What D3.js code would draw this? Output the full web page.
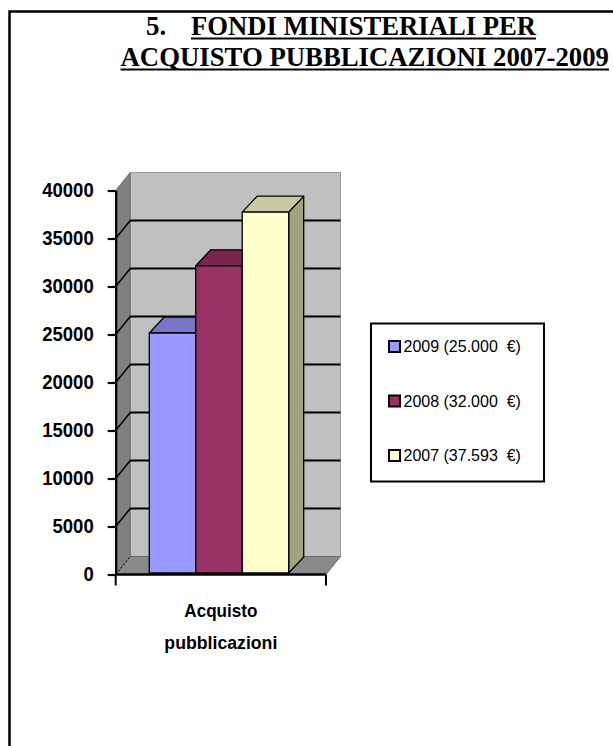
<!DOCTYPE html>
<html>
<head>
<meta charset="utf-8">
<script src="https://cdn.jsdelivr.net/npm/d3@7/dist/d3.min.js"></script>
<style>
  html, body { margin: 0; padding: 0; background: #fff; }
  svg { display: block; }
</style>
</head>
<body>
<script>
// ---- data ----
const categories = ["Acquisto pubblicazioni"];
const categoryLines = [["Acquisto", "pubblicazioni"]];
const seriesNames = ["2009", "2008", "2007"];
const seriesValues = [25000, 32000, 37593];
const legendLabels = ["2009 (25.000  €)", "2008 (32.000  €)", "2007 (37.593  €)"];
const yTicks = [0, 5000, 10000, 15000, 20000, 25000, 30000, 35000, 40000];
const titleNumber = "5.";
const titleLine1 = "FONDI MINISTERIALI PER";
const titleLine2 = "ACQUISTO PUBBLICAZIONI 2007-2009";

// ---- styles ----
const faceFront = ["#9999ff", "#993366", "#ffffcc"];
const faceTop   = ["#7777c4", "#79254f", "#c9c8a0"];
const faceSide  = ["#6e6eb0", "#6b1f45", "#a5a37f"];

const W = 613, H = 746;
const svg = d3.select("body").append("svg").attr("width", W).attr("height", H);

// page frame (open to the right and bottom)
svg.append("path")
  .attr("d", `M9.5,${H} V11.5 H${W}`)
  .attr("fill", "none").attr("stroke", "#000").attr("stroke-width", 2.5);

// ---- title ----
const tFont = "'Liberation Serif', 'Times New Roman', serif";
const title = svg.append("g").attr("font-family", tFont).attr("font-weight", "bold")
  .attr("font-size", 27).attr("fill", "#000");
title.append("text").attr("x", 146).attr("y", 35).text(titleNumber);
const t1 = title.append("text").attr("x", 191).attr("y", 35)
  .attr("textLength", 345).attr("lengthAdjust", "spacingAndGlyphs").text(titleLine1);
const t2 = title.append("text").attr("x", 120.5).attr("y", 66)
  .attr("textLength", 488.5).attr("lengthAdjust", "spacingAndGlyphs").text(titleLine2);
[[t1, 35, 191, 345], [t2, 66, 120.5, 488.5]].forEach(([t, yb, xs, w]) => {
  title.append("line")
    .attr("x1", xs).attr("x2", xs + w)
    .attr("y1", yb + 3.5).attr("y2", yb + 3.5)
    .attr("stroke", "#000").attr("stroke-width", 2);
});

// ---- chart geometry ----
const x0 = 115.7, x1 = 326;          // front floor edge
const depth = { dx: 14.5, dy: -18 };  // wall depth offset
const barDepth = { dx: 15, dy: -16 }; // column depth offset

const y = d3.scaleLinear().domain([0, 40000]).range([574.5, 190.5]);
const xCat = d3.scaleBand().domain(categories).range([x0, x1]);
const xBar = d3.scaleBand().domain(seriesNames).range([149.3, 288.7]).padding(0);

const poly = pts => "M" + pts.map(p => p.join(",")).join("L") + "Z";
const chart = svg.append("g");

const yTop = y(40000), yBase = y(0);

// back wall
chart.append("path")
  .attr("d", poly([[x0 + depth.dx, yBase + depth.dy], [x0 + depth.dx, yTop + depth.dy],
                   [x1 + depth.dx, yTop + depth.dy], [x1 + depth.dx, yBase + depth.dy]]))
  .attr("fill", "#c0c0c0").attr("stroke", "#9a9a9a").attr("stroke-width", 1);

// side wall
chart.append("path")
  .attr("d", poly([[x0, yBase], [x0, yTop], [x0 + depth.dx, yTop + depth.dy], [x0 + depth.dx, yBase + depth.dy]]))
  .attr("fill", "#808080").attr("stroke", "#6a6a6a").attr("stroke-width", 1);

// floor
chart.append("path")
  .attr("d", poly([[x0, yBase], [x1, yBase], [x1 + depth.dx, yBase + depth.dy], [x0 + depth.dx, yBase + depth.dy]]))
  .attr("fill", "#8a8a8a").attr("stroke", "#6a6a6a").attr("stroke-width", 1);

// gridlines on the back wall and their connectors across the side wall
const grid = chart.append("g").attr("stroke", "#000").attr("stroke-width", 2);
yTicks.filter(t => t > 0 && t < 40000).forEach(t => {
  grid.append("line")
    .attr("x1", x0 + depth.dx).attr("x2", x1 + depth.dx)
    .attr("y1", y(t) + depth.dy).attr("y2", y(t) + depth.dy);
  grid.append("line")
    .attr("x1", x0).attr("y1", y(t))
    .attr("x2", x0 + depth.dx).attr("y2", y(t) + depth.dy)
    .attr("stroke-width", 1.5);
});
chart.append("line")
  .attr("x1", x0).attr("y1", yBase).attr("x2", x0 + depth.dx).attr("y2", yBase + depth.dy)
  .attr("stroke", "#000").attr("stroke-width", 1).attr("stroke-dasharray", "2,2");

// ---- columns ----
const bars = chart.append("g").attr("stroke", "#000").attr("stroke-width", 1.3).attr("stroke-linejoin", "round");
const lift = 1.5;
seriesNames.forEach((name, i) => {
  const bx0 = xBar(name), bx1 = bx0 + xBar.bandwidth();
  const by = y(seriesValues[i]) - lift, bb = yBase - lift;
  const g = bars.append("g");
  // right side
  g.append("path")
    .attr("d", poly([[bx1, by], [bx1 + barDepth.dx, by + barDepth.dy], [bx1 + barDepth.dx, bb + barDepth.dy], [bx1, bb]]))
    .attr("fill", faceSide[i]);
  // top
  g.append("path")
    .attr("d", poly([[bx0, by], [bx0 + barDepth.dx, by + barDepth.dy], [bx1 + barDepth.dx, by + barDepth.dy], [bx1, by]]))
    .attr("fill", faceTop[i]);
  // front
  g.append("rect")
    .attr("x", bx0).attr("y", by).attr("width", bx1 - bx0).attr("height", bb - by)
    .attr("fill", faceFront[i]);
});

// ---- axes ----
const labelFont = "'Liberation Sans', Arial, sans-serif";
const yAxis = svg.append("g").attr("transform", `translate(${x0},0)`)
  .call(d3.axisLeft(y).tickValues(yTicks).tickFormat(d3.format("d"))
    .tickSize(8).tickSizeOuter(0).tickPadding(14));
yAxis.select(".domain").attr("stroke", "#000").attr("stroke-width", 2.2);
yAxis.selectAll(".tick line").attr("stroke", "#000").attr("stroke-width", 2.2);
yAxis.selectAll(".tick text")
  .attr("font-family", labelFont).attr("font-weight", "bold").attr("font-size", 20)
  .attr("fill", "#000")
  .attr("textLength", d => String(d).length * 10.3)
  .attr("lengthAdjust", "spacingAndGlyphs");

const xAxis = svg.append("g");
xAxis.append("line").attr("x1", x0).attr("x2", x1).attr("y1", yBase).attr("y2", yBase)
  .attr("stroke", "#000").attr("stroke-width", 2.5);
categories.forEach(c => {
  [xCat(c), xCat(c) + xCat.bandwidth()].forEach(xe => {
    xAxis.append("line").attr("x1", xe).attr("x2", xe).attr("y1", yBase).attr("y2", yBase + 11)
      .attr("stroke", "#000").attr("stroke-width", 2);
  });
});
categories.forEach((c, ci) => {
  const cx = xCat(c) + xCat.bandwidth() / 2;
  const txt = xAxis.append("text")
    .attr("font-family", labelFont).attr("font-weight", "bold").attr("font-size", 18.5)
    .attr("text-anchor", "middle").attr("fill", "#000");
  categoryLines[ci].forEach((ln, li) => {
    txt.append("tspan").attr("x", cx).attr("y", 617 + li * 32)
      .attr("textLength", li === 0 ? 73 : 113).attr("lengthAdjust", "spacingAndGlyphs").text(ln);
  });
});

// ---- legend ----
const legend = svg.append("g");
legend.append("rect").attr("x", 371).attr("y", 323.5).attr("width", 173).attr("height", 158)
  .attr("fill", "#fff").attr("stroke", "#000").attr("stroke-width", 2);
legendLabels.forEach((lab, i) => {
  const ly = 346.5 + i * 54.5;
  legend.append("rect").attr("x", 389).attr("y", ly - 5.5).attr("width", 11).attr("height", 11)
    .attr("fill", faceFront[i]).attr("stroke", "#000").attr("stroke-width", 2);
  legend.append("text").attr("x", 403.5).attr("y", ly + 5.8)
    .attr("font-family", labelFont).attr("font-size", 16).attr("fill", "#000")
    .style("white-space", "pre").text(lab);
});
</script>
</body>
</html>
